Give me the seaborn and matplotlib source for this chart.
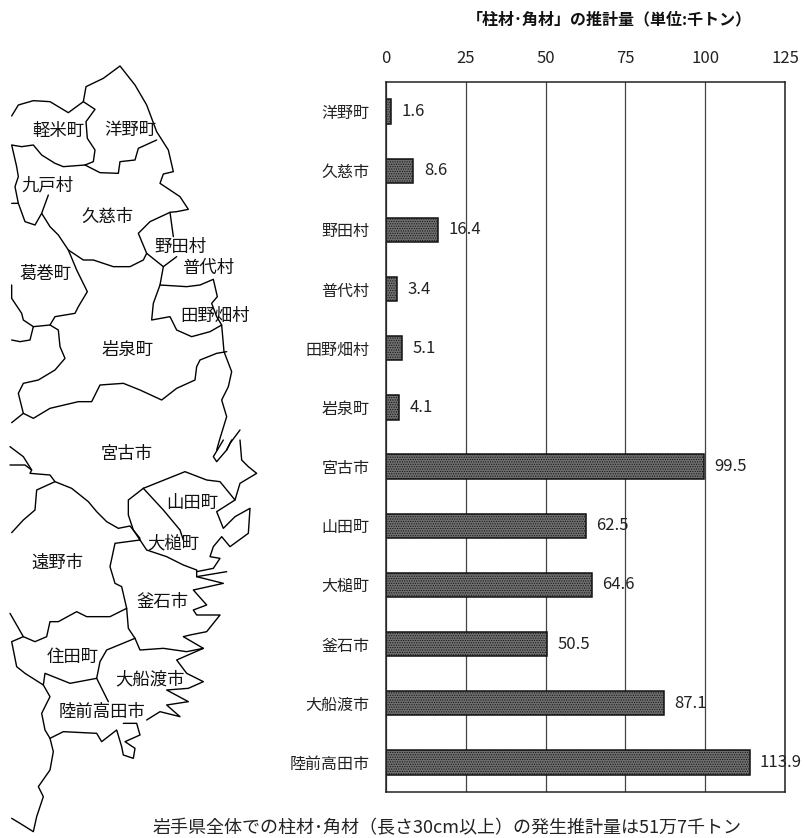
import matplotlib
matplotlib.use("Agg")
import matplotlib.pyplot as plt
import numpy as np
import pandas as pd
import seaborn as sns

W, H = 805, 838

towns = ['洋野町', '久慈市', '野田村', '普代村', '田野畑村', '岩泉町',
         '宮古市', '山田町', '大槌町', '釜石市', '大船渡市', '陸前高田市']
amounts = [1.6, 8.6, 16.4, 3.4, 5.1, 4.1, 99.5, 62.5, 64.6, 50.5, 87.1, 113.9]
ticks = [0, 25, 50, 75, 100, 125]

# map names and where they sit (reference pixels)
map_names = ['軽米町', '洋野町', '九戸村', '久慈市', '野田村', '普代村', '葛巻町', '田野畑村', '岩泉町',
             '宮古市', '山田町', '大槌町', '遠野市', '釜石市', '住田町', '大船渡市', '陸前高田市']
map_name_x = [58, 130, 47, 107, 180, 208, 45, 215, 128, 127, 192, 173, 57, 163, 73, 150, 102]
map_name_y = [131, 130, 185, 217, 247, 268, 274, 316, 350, 454, 503, 543, 563, 602, 657, 679, 712]

# boundaries of the north half, traced at 3x from y=50
north_lines = [
    [(35,198),(55,165),(100,152),(150,155),(205,188),(250,155),(258,110),(310,85),(360,48),(405,105),(440,165),(470,245),(505,300),(520,365),(490,372),(480,400),(540,440),(565,478),(530,485),(510,487),(450,515),(415,550),(440,610),(430,630),(390,650),(340,650),(280,630),(250,630),(205,600),(175,555),(150,530),(125,490),(145,435)],
    [(250,155),(285,178),(258,215),(262,265),(285,300),(280,335),(255,345),(300,368),(355,370),(360,335),(405,330),(415,295),(470,270)],
    [(255,345),(190,350),(165,340),(125,315),(100,285),(65,290),(35,285),(50,350),(55,380),(45,410),(55,460),(35,460)],
    [(55,460),(75,515),(105,525),(125,490)],
    [(205,600),(230,660),(262,725),(235,770),(225,790),(165,800),(150,825),(100,830),(90,870),(60,875),(35,870)],
    [(150,825),(175,840),(180,890),(195,925),(165,960),(115,990),(70,1000),(55,1030),(70,1090),(35,1118)],
    [(70,1090),(100,1105),(150,1075),(235,1055),(275,1055),(300,1005),(370,1000),(420,1020),(485,1050),(530,1015),(585,990),(590,950),(600,930),(650,910),(680,905)],
    [(35,705),(35,745),(65,790),(70,810),(100,830)],
    [(510,487),(520,560)],
    [(440,610),(490,650),(530,620)],
    [(490,650),(480,705),(460,760),(455,810),(510,800),(530,840),(575,860),(630,845),(665,825),(672,905),(695,965),(685,1010),(665,1050),(680,1100),(660,1165),(650,1200)],
    [(480,705),(560,710),(600,705),(640,688),(652,740),(635,760),(650,800),(665,825)],
    [(720,1140),(690,1180),(680,1200)],
]

# boundaries of the south half, traced at 3x from y=440
south_lines = [
    [(30,20),(70,50),(95,90),(90,100),(150,105),(165,125),(215,145),(265,185),(290,215),(320,245),(355,265),(390,258),(420,295)],
    [(30,75),(75,75),(95,90)],
    [(165,125),(110,150),(105,210),(70,240),(35,278)],
    [(430,145),(555,95),(620,120),(660,125),(705,180),(720,130),(770,100),(745,80),(725,60),(720,0)],
    [(670,0),(640,50),(650,65),(680,30),(695,0)],
    [(430,145),(385,180),(385,225),(400,270),(420,300),(345,310),(330,380),(345,430),(365,440),(380,505),(385,565),(405,595),(420,630),(490,625),(560,635),(610,625),(550,590),(570,585),(620,575),(660,525),(590,525),(580,510),(620,495),(580,450),(670,430),(630,420),(590,410),(590,390),(550,375),(500,350),(440,330),(420,300)],
    [(430,145),(490,210),(540,270),(550,300)],
    [(705,180),(650,215),(670,265),(705,230),(750,205),(745,280),(690,320),(665,290),(640,320),(630,350),(660,355),(640,385),(590,395)],
    [(590,410),(680,395)],
    [(380,505),(330,530),(260,530),(230,515),(175,545),(150,545),(140,590),(105,605),(70,590),(30,520)],
    [(70,590),(35,605),(50,680),(75,700),(130,735),(135,700),(210,730),(290,715),(300,665),(320,630),(405,595)],
    [(290,715),(325,785)],
    [(130,735),(150,770),(125,820),(135,870),(150,895),(190,875),(290,880),(305,905),(350,870),(365,920),(370,945),(400,955),(405,925),(375,905),(420,885),(410,850),(370,850)],
    [(150,895),(160,935),(150,990),(115,1040),(130,1070),(110,1130),(100,1175),(60,1150),(35,1135)],
    [(610,625),(530,660),(560,700),(610,725),(565,745),(500,750),(565,785),(500,795),(540,830),(480,815),(440,840)],
]

sns.set_theme(style='white')
plt.rcParams['font.family'] = ['Noto Sans CJK JP', 'DejaVu Sans']
plt.rcParams['hatch.linewidth'] = 0.5

fig = plt.figure(figsize=(W / 100, H / 100), dpi=100)

# map
ax_map = fig.add_axes([0, 0, 1, 1])
ax_map.set_xlim(0, W)
ax_map.set_ylim(H, 0)
ax_map.axis('off')
for line in north_lines:
    xy = np.array(line)
    ax_map.plot(xy[:, 0] / 3, xy[:, 1] / 3 + 50, color='black', lw=1.0)
for line in south_lines:
    xy = np.array(line)
    ax_map.plot(xy[:, 0] / 3, xy[:, 1] / 3 + 440, color='black', lw=1.0)
for name, x, y in zip(map_names, map_name_x, map_name_y):
    ax_map.text(x, y, name, ha='center', va='center', fontsize=12.5, color='#111111')

# bars
ax = fig.add_axes([386 / W, 1 - 792 / H, (785 - 386) / W, (792 - 82) / H])
df = pd.DataFrame({'town': towns, 'amount': amounts})
sns.barplot(data=df, y='town', x='amount', ax=ax, color='#6e6e6e', saturation=1,
            width=0.41, edgecolor='#111111', linewidth=1.1, hatch='.......')
ax.set_xlim(0, 125)
ax.set_xticks(ticks)
ax.xaxis.tick_top()
ax.set_xlabel('')
ax.set_ylabel('')
ax.tick_params(axis='x', length=0, pad=11, labelsize=12, labelcolor='#222222')
ax.tick_params(axis='y', length=0, pad=12, labelsize=11.5, labelcolor='#222222')
ax.grid(axis='x', color='#444444', lw=0.9)
ax.set_axisbelow(True)
for s in ax.spines.values():
    s.set_color('#222222')
    s.set_linewidth(1.1)
for i, v in enumerate(amounts):
    ax.annotate(f'{v}', (v, i), xytext=(7.5, 0), textcoords='offset points', va='center', fontsize=12, color='#222222')

fig.text(609 / W, 1 - 19 / H, '「柱材･角材」の推計量（単位:千トン）', ha='center', va='center', fontsize=11.5, fontweight='bold', color='#111111')
fig.text(447 / W, 1 - 828 / H, '岩手県全体での柱材･角材（長さ30cm以上）の発生推計量は51万7千トン', ha='center', va='center', fontsize=13, color='#222222')

fig.savefig('out.png', dpi=100)
